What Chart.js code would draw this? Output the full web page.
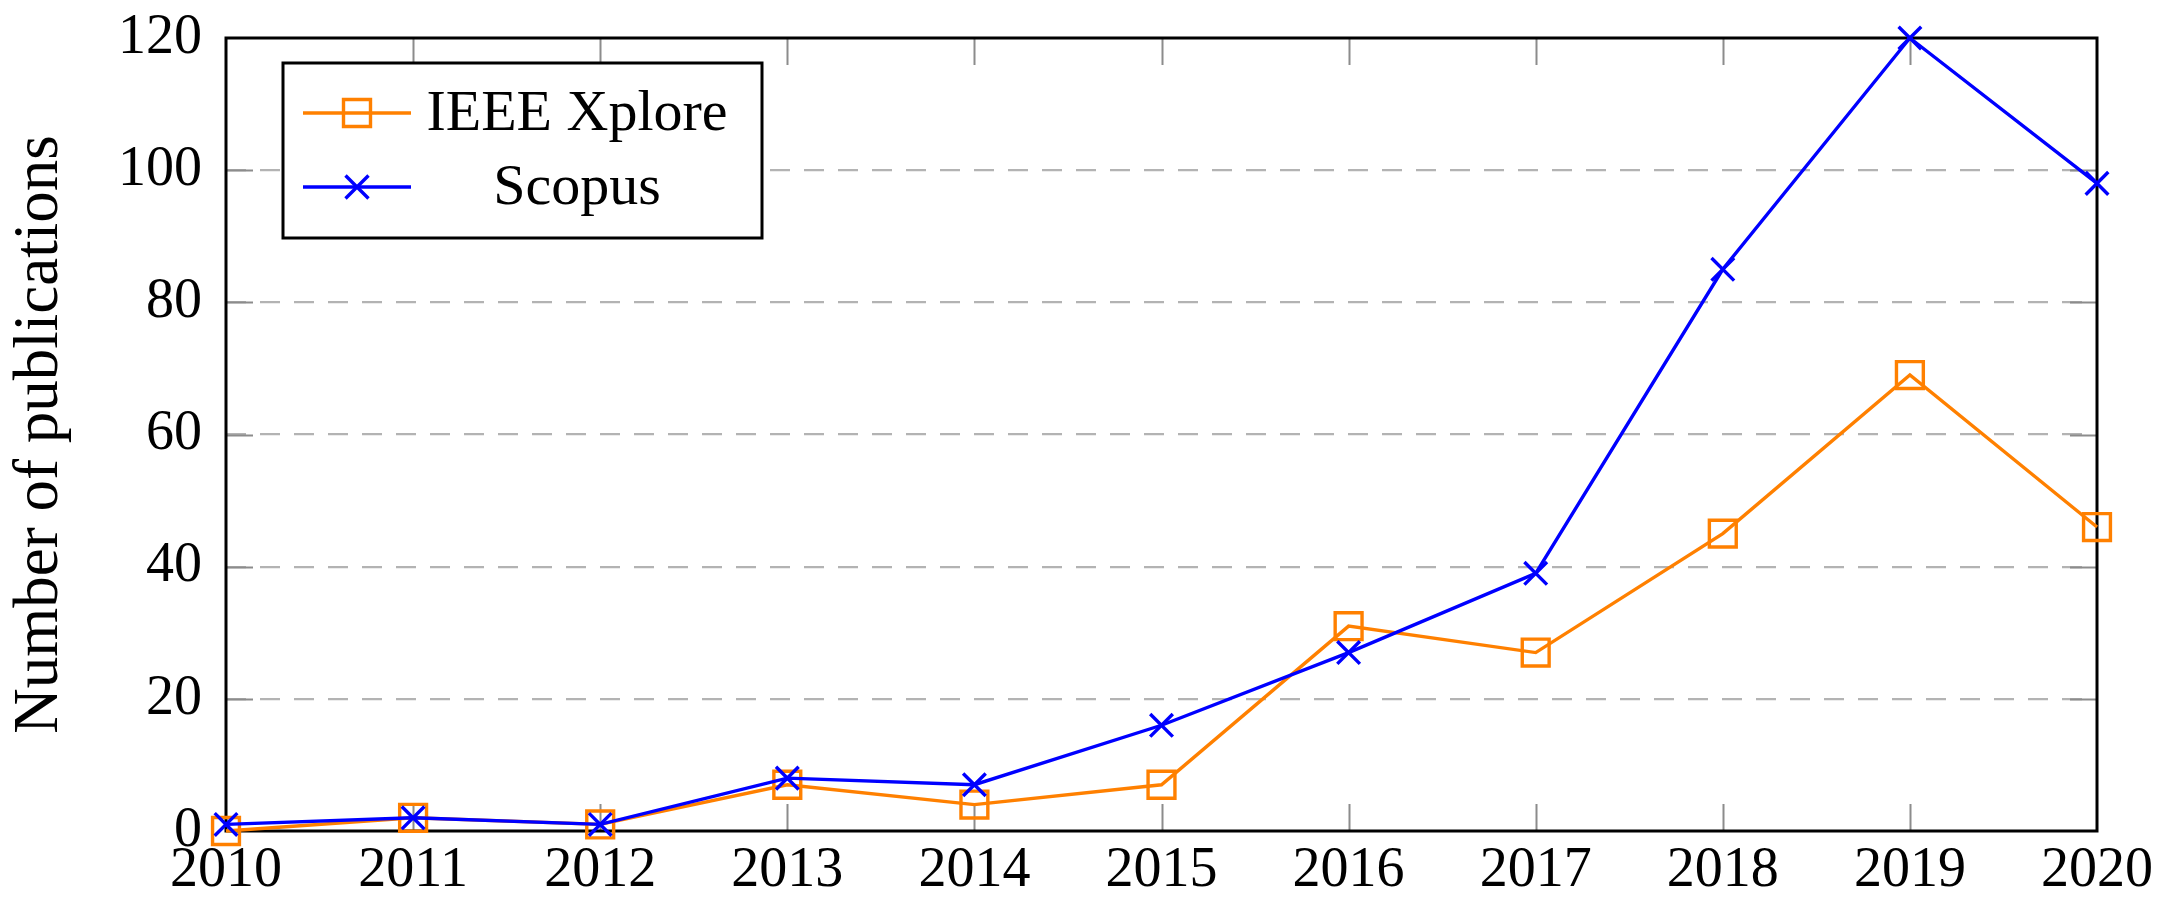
<!DOCTYPE html>
<html>
<head>
<meta charset="utf-8">
<script src="https://cdn.jsdelivr.net/npm/chart.js@4.4.1/dist/chart.umd.min.js"></script>
<style>
    html, body { margin: 0; padding: 0; background: #ffffff; }
    #contenedor { width: 2167px; height: 910px; }
</style>
</head>
<body>
<div id="contenedor"><canvas id="graficaPublicaciones" width="2167" height="910"></canvas></div>
<script>
const years = ["2010", "2011", "2012", "2013", "2014", "2015", "2016", "2017", "2018", "2019", "2020"];
const ieeeXplore = [0, 2, 1, 7, 4, 7, 31, 27, 45, 69, 46];
const scopus = [1, 2, 1, 8, 7, 16, 27, 39, 85, 120, 98];
const yTicks = [0, 20, 40, 60, 80, 100, 120];
const seriesNames = ["IEEE Xplore", "Scopus"];

const fuente = "'Liberation Serif', 'DejaVu Serif', serif";
const naranja = "#ff8000";
const azul = "#0000ff";
const gris = "#b3b3b3";
const grosor = 3.4;

// tick marks inside the frame + the black box around the plot
const marcoPlugin = {
    id: "marco",
    beforeDatasetsDraw(chart) {
        const ctx = chart.ctx;
        const a = chart.chartArea;
        const x = chart.scales.x;
        const y = chart.scales.y;
        const largo = 27;

        ctx.save();
        ctx.strokeStyle = "#8c8c8c";
        ctx.lineWidth = 2;
        ctx.beginPath();
        x.ticks.forEach((t, i) => {
            if (i === 0 || i === x.ticks.length - 1) return;
            const px = Math.round(x.getPixelForTick(i)) + 0.5;
            ctx.moveTo(px, a.top);
            ctx.lineTo(px, a.top + largo);
            ctx.moveTo(px, a.bottom);
            ctx.lineTo(px, a.bottom - largo);
        });
        y.ticks.forEach((t, i) => {
            if (i === 0 || i === y.ticks.length - 1) return;
            const py = Math.round(y.getPixelForTick(i)) + 0.5;
            ctx.moveTo(a.left, py);
            ctx.lineTo(a.left + largo, py);
            ctx.moveTo(a.right, py);
            ctx.lineTo(a.right - largo, py);
        });
        ctx.stroke();

        ctx.strokeStyle = "#000000";
        ctx.lineWidth = 3;
        ctx.strokeRect(a.left, a.top, a.right - a.left, a.bottom - a.top);
        ctx.restore();
    }
};

function dibujarMarcador(ctx, estilo, color, cx, cy) {
    ctx.strokeStyle = color;
    ctx.lineWidth = grosor;
    ctx.beginPath();
    if (estilo === "rect") {
        ctx.rect(cx - 13.5, cy - 13.5, 27, 27);
    } else {
        const d = 11.5;
        ctx.moveTo(cx - d, cy - d);
        ctx.lineTo(cx + d, cy + d);
        ctx.moveTo(cx - d, cy + d);
        ctx.lineTo(cx + d, cy - d);
    }
    ctx.stroke();
}

// legend box like the pgfplots one: line sample with marker, centred text
const leyendaPlugin = {
    id: "leyendaCaja",
    afterDatasetsDraw(chart) {
        const ctx = chart.ctx;
        const a = chart.chartArea;
        const bx = a.left + 57;
        const by = a.top + 25;
        const bw = 479;
        const bh = 175;

        ctx.save();
        ctx.fillStyle = "#ffffff";
        ctx.fillRect(bx, by, bw, bh);
        ctx.strokeStyle = "#000000";
        ctx.lineWidth = 3;
        ctx.strokeRect(bx, by, bw, bh);

        chart.data.datasets.forEach((ds, i) => {
            const filaY = by + 50 + i * 74;
            ctx.strokeStyle = ds.borderColor;
            ctx.lineWidth = grosor;
            ctx.beginPath();
            ctx.moveTo(bx + 20, filaY);
            ctx.lineTo(bx + 128, filaY);
            ctx.stroke();
            dibujarMarcador(ctx, ds.pointStyle, ds.borderColor, bx + 74, filaY);

            ctx.fillStyle = "#000000";
            ctx.font = "58px " + fuente;
            ctx.textAlign = "center";
            ctx.textBaseline = "alphabetic";
            ctx.fillText(ds.label, bx + 294, filaY + 17);
        });
        ctx.restore();
    }
};

const data = {
    labels: years,
    datasets: [
        {
            label: seriesNames[0],
            data: ieeeXplore,
            borderColor: naranja,
            backgroundColor: naranja,
            borderWidth: grosor,
            pointStyle: "rect",
            pointRadius: 19,
            pointBorderWidth: grosor,
            pointBackgroundColor: "transparent",
            pointBorderColor: naranja,
            tension: 0,
            clip: false,
            order: 1,
        },
        {
            label: seriesNames[1],
            data: scopus,
            borderColor: azul,
            backgroundColor: azul,
            borderWidth: grosor,
            pointStyle: "crossRot",
            pointRadius: 16,
            pointBorderWidth: grosor,
            pointBackgroundColor: "transparent",
            pointBorderColor: azul,
            tension: 0,
            clip: false,
            order: 0,
        },
    ],
};

const config = {
    type: "line",
    data: data,
    options: {
        responsive: false,
        animation: false,
        devicePixelRatio: 1,
        layout: {
            padding: { top: 38, right: 70, bottom: 0, left: 0 },
        },
        plugins: {
            legend: { display: false },
            tooltip: { enabled: false },
        },
        scales: {
            x: {
                type: "category",
                offset: false,
                grid: { display: false, drawTicks: false },
                border: { display: false },
                ticks: {
                    color: "#000000",
                    font: { family: fuente, size: 56 },
                    padding: 7,
                    maxRotation: 0,
                    autoSkip: false,
                },
                afterFit(scale) {
                    scale.height = 79;
                },
            },
            y: {
                min: yTicks[0],
                max: yTicks[yTicks.length - 1],
                grid: {
                    drawTicks: true,
                    tickLength: 24,
                    tickColor: "rgba(0,0,0,0)",
                    lineWidth: 2.2,
                    color: (c) => (c.tick && (c.tick.value === yTicks[0] || c.tick.value === yTicks[yTicks.length - 1])) ? "rgba(0,0,0,0)" : gris,
                },
                border: { display: false, dash: [20, 14] },
                afterBuildTicks(scale) {
                    scale.ticks = yTicks.map((v) => ({ value: v }));
                },
                ticks: {
                    color: "#000000",
                    font: { family: fuente, size: 56 },
                    padding: 0,
                },
                title: {
                    display: true,
                    text: "Number of publications",
                    color: "#000000",
                    font: { family: fuente, size: 63 },
                    padding: { top: 3, bottom: 0 },
                },
                afterFit(scale) {
                    scale.width = 226;
                },
            },
        },
    },
    plugins: [marcoPlugin, leyendaPlugin],
};

new Chart(document.getElementById("graficaPublicaciones"), config);
</script>
</body>
</html>
